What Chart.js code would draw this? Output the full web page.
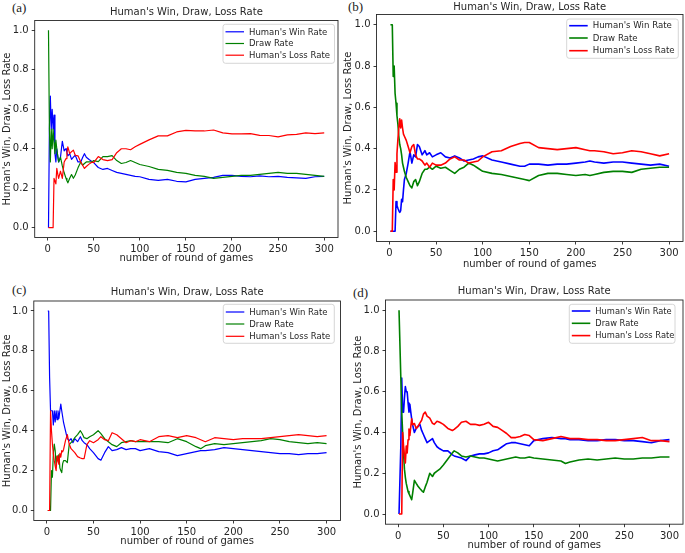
<!DOCTYPE html>
<html lang="en">
<head>
  <meta charset="UTF-8">
  <title>Human's Win, Draw, Loss Rate</title>
  <script src="https://cdn.jsdelivr.net/npm/chart.js"></script>
  <style>
    html, body { margin: 0; padding: 0; background: #fff; }
    body { position: relative; width: 685px; height: 553px; overflow: hidden; }
    .panel { position: absolute; }
    .tag { position: absolute; font-family: "Liberation Serif", "DejaVu Serif", serif; font-size: 13px; line-height: 1; color: #222; }
  </style>
</head>
<body>

  <!-- panel letters -->
  <div class="tag" style="left:12px; top:1px;">(a)</div>
  <div class="tag" style="left:348px; top:0px;">(b)</div>
  <div class="tag" style="left:12px; top:283px;">(c)</div>
  <div class="tag" style="left:353px; top:286px;">(d)</div>

  <div class="panel" id="pa"><canvas></canvas></div>
  <div class="panel" id="pb"><canvas></canvas></div>
  <div class="panel" id="pc"><canvas></canvas></div>
  <div class="panel" id="pd"><canvas></canvas></div>

  <script>
    // shared labels and ticks
    const seriesNames = ["Human's Win Rate", "Draw Rate", "Human's Loss Rate"];
    const panelTitle = "Human's Win, Draw, Loss Rate";
    const xAxisTitle = "number of round of games";
    const yAxisTitle = "Human's Win, Draw, Loss Rate";
    const xTicks = [0, 50, 100, 150, 200, 250, 300];
    const yTicks = [0, 0.2, 0.4, 0.6, 0.8, 1.0];

    // (a)
    const aRounds = [1,2,3,4,5,6,7,8,9,10,11,12,14,16,18,20,21,22,24,26,28,30,33,36,38,40,42,45,48,50,55,60,65,70,75,80,85,90,95,100,110,120,130,140,150,160,170,180,190,200,210,220,230,240,250,260,270,280,290,300];
    const aWin = [0,0.5,0.667,0.5,0.6,0.5,0.571,0.375,0.333,0.4,0.364,0.333,
      0.357,0.438,0.389,0.4,
      0.381,0.364,0.375,0.346,0.357,0.367,
      0.333,0.333,0.355,0.375,0.357,0.345,0.335,0.33,
      0.305,0.295,0.3,0.29,0.28,0.275,0.27,0.265,0.26,0.258,
      0.245,0.24,0.245,0.235,0.232,0.245,0.25,0.255,0.265,0.265,0.26,0.258,0.262,0.258,0.26,0.255,0.252,0.25,0.258,0.26];
    const aDraw = [1,0.5,0.333,0.5,0.4,0.5,0.429,0.375,0.444,0.4,0.364,0.333,
      0.357,0.313,0.278,0.25,
      0.238,0.227,0.25,0.269,0.25,0.267,
      0.303,0.333,0.316,0.325,0.333,0.333,0.333,0.34,
      0.335,0.36,0.36,0.365,0.34,0.325,0.33,0.34,0.33,0.32,
      0.31,0.295,0.29,0.28,0.275,0.265,0.26,0.25,0.255,0.26,0.265,0.265,0.27,0.275,0.28,0.275,0.275,0.27,0.265,0.26];
    const aLoss = [0,0,0,0,0,0,0.25,0.25,0.222,0.3,0.273,0.25,
      0.286,0.25,0.333,0.35,
      0.381,0.409,0.375,0.385,0.393,0.367,
      0.364,0.333,0.316,0.3,0.31,0.322,0.332,0.33,
      0.36,0.345,0.34,0.345,0.38,0.4,0.4,0.395,0.41,0.422,
      0.445,0.465,0.465,0.485,0.493,0.49,0.49,0.495,0.48,0.475,0.475,0.477,0.468,0.467,0.46,0.47,0.473,0.48,0.477,0.48];

    // (b)
    const bRounds = [1,2,3,4,5,6,7,8,9,10,11,12,13,14,15,16,18,20,22,24,26,28,30,32,35,38,40,43,46,50,55,60,65,70,75,80,85,90,95,100,110,120,130,140,145,150,160,170,180,190,200,210,215,220,230,240,250,260,270,280,290,300];
    const bWin = [0,0,0,0,0,0,0.143,0.125,0.111,0.1,0.091,0.1,0.154,0.143,0.2,0.25,
      0.28,0.33,0.385,0.33,0.37,0.36,0.42,0.41,
      0.37,0.39,0.37,0.38,0.36,0.37,
      0.38,0.36,0.355,0.365,0.355,0.34,0.345,0.35,0.36,0.365,
      0.345,0.335,0.325,0.315,
      0.315,0.325,
      0.325,0.32,0.325,0.325,0.33,0.335,
      0.34,
      0.335,0.33,0.335,0.335,0.33,0.325,0.32,0.325,0.315];
    const bDraw = [1,1,1,0.75,0.8,0.667,0.62,0.56,0.52,0.46,0.42,0.4,0.37,0.33,0.31,0.29,
      0.26,0.24,0.22,0.21,0.24,0.25,0.22,0.24,
      0.28,0.3,0.3,0.31,0.3,0.315,
      0.305,0.31,0.295,0.28,0.3,0.31,0.33,0.32,0.305,0.29,
      0.28,0.275,0.265,0.255,
      0.25,0.245,
      0.27,0.28,0.28,0.275,0.27,0.275,
      0.27,
      0.275,0.285,0.29,0.29,0.285,0.3,0.305,0.31,0.31];
    const bLoss = [0,0,0,0.25,0.2,0.333,0.286,0.375,0.444,0.5,0.545,0.5,0.538,0.5,0.47,0.46,
      0.44,0.41,0.38,0.41,0.42,0.37,0.35,0.35,
      0.34,0.32,0.33,0.31,0.33,0.32,
      0.32,0.33,0.35,0.36,0.345,0.345,0.33,0.335,0.34,0.36,
      0.385,0.39,0.41,0.425,
      0.43,0.43,
      0.405,0.4,0.395,0.4,0.405,0.395,
      0.39,
      0.39,0.385,0.375,0.38,0.39,0.385,0.375,0.365,0.375];

    // (c)
    const cRounds = [1,2,3,4,5,6,7,8,9,10,11,12,13,14,15,16,17,18,20,22,24,26,28,30,33,36,38,40,43,46,50,55,58,62,66,70,75,80,85,90,95,100,110,120,130,140,150,160,165,170,180,190,200,210,220,230,240,250,260,270,280,290,300];
    const cWin = [1,1,0.667,0.5,0.5,0.5,0.429,0.5,0.444,0.5,0.455,0.5,0.462,0.5,0.533,0.5,0.47,0.44,
      0.4,0.36,0.35,0.36,0.34,0.36,
      0.345,0.37,0.35,0.34,0.33,0.31,0.29,
      0.26,0.252,0.29,0.32,0.3,
      0.305,0.315,0.305,0.31,0.31,0.3,
      0.31,0.295,0.29,0.275,0.285,0.295,
      0.3,
      0.3,0.305,0.315,0.31,0.305,0.3,0.295,0.29,0.285,0.285,0.28,0.285,0.285,0.29];
    const cDraw = [0,0,0,0,0.2,0.167,0.286,0.333,0.3,0.22,0.273,0.25,0.28,0.214,0.2,0.19,0.235,0.25,
      0.25,0.24,0.33,0.34,0.35,0.365,
      0.38,0.4,0.385,0.365,0.36,0.37,0.38,
      0.4,0.385,0.36,0.345,0.33,
      0.32,0.34,0.345,0.35,0.345,0.345,
      0.345,0.345,0.34,0.36,0.345,0.32,
      0.31,
      0.325,0.335,0.33,0.335,0.34,0.345,0.35,0.36,0.355,0.345,0.34,0.335,0.34,0.335];
    const cLoss = [0,0,0,0.5,0.4,0.333,0.286,0.25,0.222,0.2,0.273,0.25,0.231,0.286,0.267,0.3,0.294,0.306,
      0.35,0.38,0.333,0.31,0.3,0.29,
      0.27,0.263,0.26,0.26,0.33,0.35,0.34,
      0.355,0.37,0.355,0.35,0.39,
      0.38,0.36,0.34,0.35,0.345,0.355,
      0.345,0.37,0.375,0.365,0.375,0.365,
      0.355,
      0.345,0.365,0.36,0.355,0.36,0.36,0.36,0.365,0.37,0.375,0.38,0.375,0.37,0.375];

    // (d)
    const dRounds = [1,2,3,4,5,6,7,8,9,10,11,12,13,14,15,16,18,20,22,24,26,28,30,32,35,38,40,43,46,50,55,60,62,66,70,75,80,85,90,95,100,105,110,115,120,125,130,135,140,145,150,160,170,180,185,190,200,210,220,230,240,250,260,270,280,290,300];
    const dWin = [0,0,0.333,0.667,0.5,0.5,0.571,0.625,0.6,0.6,0.545,0.5,0.538,0.5,0.467,0.438,
      0.4,0.42,0.43,0.44,0.41,0.39,0.37,0.35,
      0.36,0.37,0.35,0.33,0.32,0.31,
      0.31,0.29,0.285,0.28,0.275,
      0.262,0.285,0.29,0.295,0.295,0.3,0.31,0.315,0.33,0.345,0.35,0.35,0.345,0.34,0.335,0.36,
      0.37,0.375,0.37,
      0.37,
      0.365,0.365,0.36,0.36,0.365,0.365,0.36,0.36,0.355,0.35,0.36,0.365];
    const dDraw = [1,1,0.667,0.5,0.4,0.3,0.22,0.18,0.15,0.13,0.11,0.1,0.09,0.08,0.07,0.1,
      0.165,0.15,0.136,0.125,0.115,0.107,0.133,0.156,
      0.2,0.184,0.2,0.21,0.22,0.24,
      0.27,0.3,0.31,0.3,0.285,
      0.28,0.285,0.28,0.275,0.275,0.27,0.265,0.26,0.265,0.27,0.275,0.28,0.275,0.275,0.28,0.275,
      0.27,0.265,0.26,
      0.248,
      0.255,0.265,0.27,0.265,0.27,0.275,0.27,0.27,0.275,0.275,0.28,0.28];
    const dLoss = [0,0,0,0,0.4,0.333,0.286,0.25,0.333,0.3,0.364,0.417,0.385,0.429,0.467,0.438,
      0.444,0.42,0.43,0.446,0.46,0.49,0.5,0.48,
      0.47,0.445,0.44,0.455,0.45,0.44,
      0.42,0.41,0.415,0.43,0.45,
      0.455,0.44,0.44,0.435,0.44,0.45,0.43,0.425,0.41,0.395,0.375,0.375,0.38,0.39,0.385,0.365,
      0.36,0.37,0.38,
      0.375,
      0.37,0.37,0.365,0.365,0.36,0.36,0.365,0.37,0.375,0.36,0.36,0.355];

    const colors = ['#0000ff', '#008000', '#ff0000'];
    const textColor = '#262626';
    const fontFamily = '"DejaVu Sans", sans-serif';

    // box round the plot area
    const framePlugin = {
      id: 'frame',
      afterDatasetsDraw(chart) {
        const { ctx, chartArea: a } = chart;
        ctx.save();
        ctx.strokeStyle = textColor;
        ctx.lineWidth = 0.9;
        ctx.strokeRect(a.left, a.top, a.right - a.left, a.bottom - a.top);
        ctx.restore();
      }
    };

    // legend drawn inside the plot, top right
    const boxLegend = {
      id: 'boxLegend',
      afterDraw(chart, args, o) {
        if (!o || !o.w) return;
        const { ctx, chartArea: a } = chart;
        const bx = a.right - o.inR - o.w, by = a.top + o.inT, r = 2.5;
        ctx.save();
        ctx.beginPath();
        ctx.moveTo(bx + r, by);
        ctx.lineTo(bx + o.w - r, by);
        ctx.arcTo(bx + o.w, by, bx + o.w, by + r, r);
        ctx.lineTo(bx + o.w, by + o.h - r);
        ctx.arcTo(bx + o.w, by + o.h, bx + o.w - r, by + o.h, r);
        ctx.lineTo(bx + r, by + o.h);
        ctx.arcTo(bx, by + o.h, bx, by + o.h - r, r);
        ctx.lineTo(bx, by + r);
        ctx.arcTo(bx, by, bx + r, by, r);
        ctx.closePath();
        ctx.fillStyle = 'rgba(255,255,255,0.8)';
        ctx.fill();
        ctx.strokeStyle = '#cccccc';
        ctx.lineWidth = 0.8;
        ctx.stroke();
        ctx.font = o.fontSize + 'px ' + fontFamily;
        ctx.textBaseline = 'middle';
        chart.data.datasets.forEach((ds, i) => {
          const y = by + o.rows[i];
          ctx.strokeStyle = ds.borderColor;
          ctx.lineWidth = ds.borderWidth;
          ctx.beginPath();
          ctx.moveTo(bx + 2.5, y);
          ctx.lineTo(bx + 21, y);
          ctx.stroke();
          ctx.fillStyle = textColor;
          ctx.fillText(ds.label, bx + 26, y + 0.5);
        });
        ctx.restore();
      }
    };

    function series(label, rounds, values, color, lw, order) {
      return {
        label: label,
        data: rounds.map((x, i) => ({ x: x, y: values[i] })),
        borderColor: color,
        borderWidth: lw,
        borderJoinStyle: 'round',
        pointRadius: 0,
        tension: 0,
        fill: false,
        order: order
      };
    }

    // g: plot box (L,R,T,B), title/label offsets, line width, legend box
    function makePanel(key, rounds, win, draw, loss, g) {
      const x0 = g.yTitleX - 6;            // left edge of the y scale
      const y0 = g.T - g.titleDy - 6;      // top edge of the title block
      const xh = g.xTitleDy + 6;           // x scale height
      const left = Math.floor(x0), top = Math.floor(y0);
      const right = Math.ceil(g.R + 2);
      const bottom = Math.min(553, Math.ceil(g.B + xh + 0.5));

      const box = document.getElementById('p' + key);
      box.style.left = left + 'px';
      box.style.top = top + 'px';
      box.style.width = (right - left) + 'px';
      box.style.height = (bottom - top) + 'px';

      const tickFont = { family: fontFamily, size: 10 };
      const labelFont = { family: fontFamily, size: 10 };

      new Chart(box.querySelector('canvas'), {
        type: 'line',
        data: {
          datasets: [
            series(seriesNames[0], rounds, win, colors[0], g.lw, 2),
            series(seriesNames[1], rounds, draw, colors[1], g.lw, 1),
            series(seriesNames[2], rounds, loss, colors[2], g.lw, 0)
          ]
        },
        options: {
          responsive: true,
          maintainAspectRatio: false,
          animation: false,
          events: [],
          layout: {
            padding: { left: x0 - left, top: y0 - top, right: right - g.R, bottom: bottom - (g.B + xh) }
          },
          plugins: {
            legend: { display: false },
            tooltip: { enabled: false },
            title: {
              display: true,
              text: panelTitle,
              fullSize: false,
              color: textColor,
              font: { family: fontFamily, size: 10, weight: 'normal', lineHeight: 1.2 },
              padding: { top: 0, bottom: g.titleDy - 6 }
            },
            boxLegend: g.legend
          },
          scales: {
            x: {
              type: 'linear',
              min: -13.95,
              max: 314.95,
              afterBuildTicks: s => { s.ticks = xTicks.map(v => ({ value: v })); },
              afterFit: s => { s.height = xh; },
              ticks: { color: textColor, font: tickFont, padding: 3, maxRotation: 0, autoSkip: false },
              grid: { drawOnChartArea: false, drawTicks: true, tickLength: 3, tickColor: textColor, tickWidth: 0.9 },
              border: { display: false },
              title: { display: true, text: xAxisTitle, color: textColor, font: labelFont, padding: 0 }
            },
            y: {
              min: -0.05,
              max: 1.05,
              afterBuildTicks: s => { s.ticks = yTicks.map(v => ({ value: v })); },
              afterFit: s => { s.width = g.L - x0; },
              ticks: { color: textColor, font: tickFont, padding: 3, autoSkip: false, callback: v => v.toFixed(1) },
              grid: { drawOnChartArea: false, drawTicks: true, tickLength: 3, tickColor: textColor, tickWidth: 0.9 },
              border: { display: false },
              title: { display: true, text: yAxisTitle, color: textColor, font: labelFont, padding: 0 }
            }
          }
        },
        plugins: [framePlugin, boxLegend]
      });
    }

    makePanel('a', aRounds, aWin, aDraw, aLoss, {
      L: 34.7, R: 338, T: 20.5, B: 237.5, titleDy: 8.5, xTitleDy: 20.5, yTitleX: 7.5, lw: 1.2,
      legend: { inR: 3.5, inT: 3.8, w: 111.5, h: 39, rows: [7.5, 19.2, 30.9], fontSize: 8.5 }
    });
    makePanel('b', bRounds, bWin, bDraw, bLoss, {
      L: 376.5, R: 683, T: 14.5, B: 241.5, titleDy: 7.5, xTitleDy: 22.5, yTitleX: 348, lw: 1.6,
      legend: { inR: 4.7, inT: 4.5, w: 111.6, h: 39.3, rows: [6.7, 19, 31.7], fontSize: 8.6 }
    });
    makePanel('c', cRounds, cWin, cDraw, cLoss, {
      L: 33.8, R: 340.5, T: 301, B: 520.5, titleDy: 9, xTitleDy: 21.2, yTitleX: 7.5, lw: 1.2,
      legend: { inR: 6.2, inT: 3.3, w: 111, h: 39, rows: [7.7, 19.7, 32], fontSize: 8.5 }
    });
    makePanel('d', dRounds, dWin, dDraw, dLoss, {
      L: 385.5, R: 683, T: 300, B: 524.2, titleDy: 9, xTitleDy: 21.5, yTitleX: 358, lw: 1.6,
      legend: { inR: 8, inT: 4.3, w: 105.7, h: 39, rows: [6.7, 19, 31.3], fontSize: 8.3 }
    });
  </script>
</body>
</html>
